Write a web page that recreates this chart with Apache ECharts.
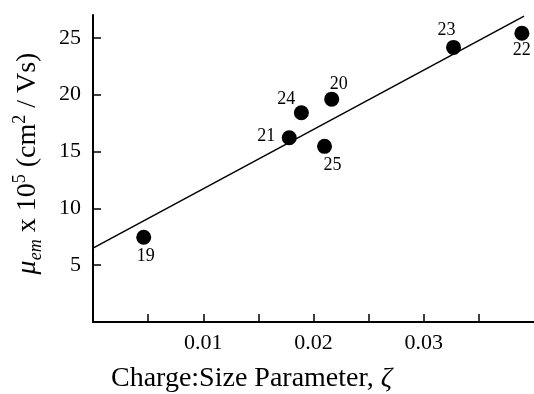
<!DOCTYPE html>
<html>
<head>
<meta charset="utf-8">
<script src="https://cdn.jsdelivr.net/npm/echarts@6/dist/echarts.min.js"></script>
<style>
  html, body { margin: 0; padding: 0; background: #fff; }
  #chart { width: 534px; height: 394px; }
</style>
</head>
<body>
<div id="chart"></div>
<script>
// compound numbers and their measured values
var compoundIds = ['19', '20', '21', '22', '23', '24', '25'];
var zeta = [0.0046, 0.02165, 0.0178, 0.0389, 0.0327, 0.0189, 0.0210];
var mobility = [7.45, 19.6, 16.2, 25.4, 24.15, 18.4, 15.45];

// fitted line end points
var fitZeta = [0, 0.0391];
var fitMobility = [6.5, 26.9];

// ticks
var xTickValues = [0.005, 0.01, 0.015, 0.02, 0.025, 0.03, 0.035];
var xLabelValues = [0.01, 0.02, 0.03];
var yTickValues = [5, 10, 15, 20, 25];

// where each point's number sits, relative to the dot
var labelOffsets = {
  '19': [2, 19], '20': [7, -15], '21': [-23, -2], '22': [0, 17],
  '23': [-7, -17], '24': [-15, -14], '25': [8, 19]
};

var font = 'Liberation Serif';

var points = compoundIds.map(function (id, i) {
  return {
    name: id,
    value: [zeta[i], mobility[i]],
    label: { offset: labelOffsets[id] }
  };
});

var fitLine = fitZeta.map(function (z, i) { return [z, fitMobility[i]]; });

var chart = echarts.init(document.getElementById('chart'));
chart.setOption({
  backgroundColor: '#fff',
  animation: false,
  grid: { left: 93, right: 0, top: 15, bottom: 72, outerBoundsMode: 'none' },
  xAxis: {
    type: 'value',
    min: 0,
    max: 0.04,
    name: 'Charge:Size Parameter, {i|ζ}',
    nameLocation: 'middle',
    nameGap: 43,
    nameTextStyle: {
      fontFamily: font, fontSize: 28, color: '#000',
      padding: [0, 124, 0, 0],
      rich: { i: { fontFamily: font, fontSize: 28, fontStyle: 'italic', color: '#000' } }
    },
    splitLine: { show: false },
    axisLine: { lineStyle: { color: '#000', width: 2 } },
    axisTick: { inside: true, length: 8, customValues: xTickValues, lineStyle: { color: '#000', width: 1.5 } },
    axisLabel: {
      customValues: xLabelValues,
      margin: 10,
      fontFamily: font, fontSize: 22, color: '#000',
      formatter: function (v) { return v.toFixed(2); }
    }
  },
  yAxis: {
    type: 'value',
    min: 0,
    max: 27,
    name: '{mu|μ}{sub|em}{t| x 10}{sup|5}{t| (cm}{sup|2}{t| / Vs)}',
    nameLocation: 'middle',
    nameGap: 48,
    nameTextStyle: {
      padding: [0, 0, 0, 10],
      rich: {
        t: { fontFamily: font, fontSize: 28, color: '#000', lineHeight: 34 },
        mu: { fontFamily: font, fontSize: 28, fontStyle: 'italic', color: '#000', lineHeight: 34 },
        sub: { fontFamily: font, fontSize: 18, fontStyle: 'italic', color: '#000', verticalAlign: 'bottom', lineHeight: 18 },
        sup: { fontFamily: font, fontSize: 18, color: '#000', verticalAlign: 'top', lineHeight: 18 }
      }
    },
    splitLine: { show: false },
    axisLine: { lineStyle: { color: '#000', width: 2 } },
    axisTick: { inside: true, length: 8, customValues: yTickValues, lineStyle: { color: '#000', width: 1.5 } },
    axisLabel: {
      customValues: yTickValues,
      margin: 12,
      fontFamily: font, fontSize: 22, color: '#000'
    }
  },
  series: [
    {
      type: 'line',
      data: fitLine,
      symbol: 'none',
      lineStyle: { color: '#000', width: 1.5 },
      silent: true
    },
    {
      type: 'scatter',
      data: points,
      symbolSize: 15,
      itemStyle: { color: '#000', opacity: 1 },
      label: {
        show: true,
        position: 'inside',
        formatter: '{b}',
        fontFamily: font, fontSize: 18, color: '#000'
      }
    }
  ]
});
</script>
</body>
</html>
